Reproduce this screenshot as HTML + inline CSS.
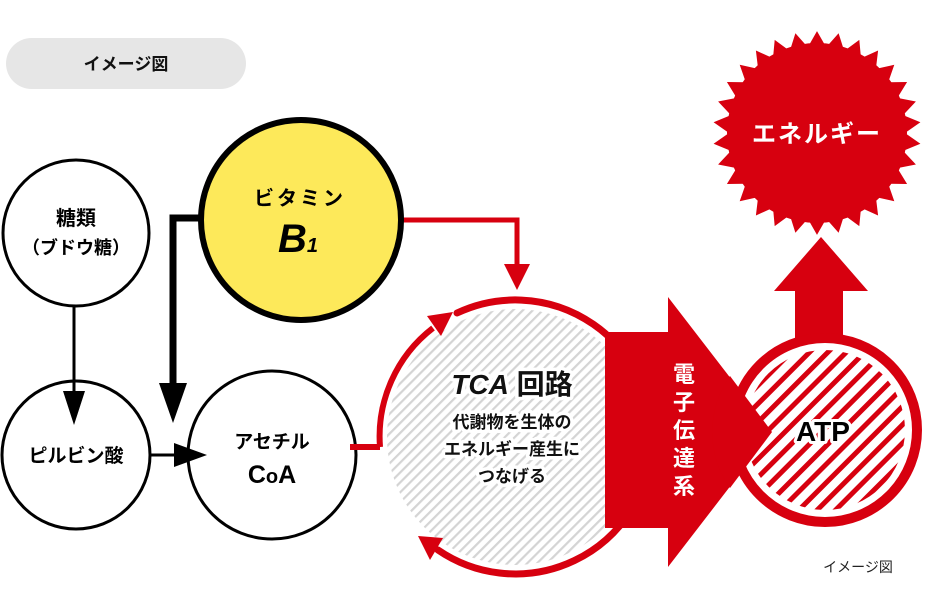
<!DOCTYPE html>
<html><head><meta charset="utf-8"><style>
html,body{margin:0;padding:0;background:#fff;}
svg{display:block;}
text{font-family:"Liberation Sans","Noto Sans CJK JP",sans-serif;font-weight:bold;}
text.n{font-weight:normal;}
</style></head><body>
<svg width="925" height="611" viewBox="0 0 925 611" xmlns="http://www.w3.org/2000/svg">
<defs>
<pattern id="gh" patternUnits="userSpaceOnUse" width="7" height="7" patternTransform="rotate(45)">
<rect width="7" height="7" fill="#fff"/>
<rect x="0" y="0" width="2.2" height="7" fill="#d4d4d4"/>
</pattern>
<pattern id="rh" patternUnits="userSpaceOnUse" width="13" height="13" patternTransform="rotate(45)">
<rect width="13" height="13" fill="#fff"/>
<rect x="0" y="0" width="5" height="13" fill="#d7000f"/>
</pattern>
</defs>

<!-- pill -->
<rect x="6" y="38" width="240" height="51" rx="25.5" fill="#e6e6e6"/>
<text x="126" y="70" font-size="17" text-anchor="middle" fill="#111">イメージ図</text>

<!-- circles left -->
<circle cx="76" cy="233" r="73" fill="#fff" stroke="#000" stroke-width="3"/>
<text x="76" y="225" font-size="20" text-anchor="middle">糖類</text>
<text x="76" y="254" font-size="18" text-anchor="middle">（ブドウ糖）</text>
<circle cx="76" cy="455" r="74" fill="#fff" stroke="#000" stroke-width="3"/>
<text x="76" y="462" font-size="19" text-anchor="middle">ピルビン酸</text>
<circle cx="272" cy="455" r="84" fill="#fff" stroke="#000" stroke-width="3"/>
<text x="272" y="448" font-size="19" text-anchor="middle">アセチル</text>
<text x="272" y="483" font-size="25" text-anchor="middle">C<tspan font-size="20">o</tspan>A</text>

<!-- black arrows -->
<line x1="74" y1="307" x2="74" y2="395" stroke="#000" stroke-width="3"/>
<polygon points="74,425 63,391 85,391" fill="#000"/>
<line x1="150" y1="455" x2="180" y2="455" stroke="#000" stroke-width="3"/>
<polygon points="207,455 174,443 174,467" fill="#000"/>
<path d="M205,218 H173 V392" fill="none" stroke="#000" stroke-width="7"/>
<polygon points="173,423 159,383 187,383" fill="#000"/>

<!-- red connectors -->
<path d="M402,220 H517 V268" fill="none" stroke="#d7000f" stroke-width="5"/>
<polygon points="517,290 504,264 530,264" fill="#d7000f"/>
<path d="M350,447 H380" fill="none" stroke="#d7000f" stroke-width="6"/>

<!-- TCA -->
<circle cx="515" cy="437" r="128" fill="url(#gh)"/>
<path d="M380,447 A137,137 0 0 1 433,328" fill="none" stroke="#d7000f" stroke-width="6"/>
<polygon points="453,312 441,336 427,316" fill="#d7000f"/>
<path d="M457,313 A137,137 0 1 1 438,550" fill="none" stroke="#d7000f" stroke-width="7" stroke-linecap="round"/>
<polygon points="418,536 443,538 430,560" fill="#d7000f"/>

<!-- big arrow -->
<polygon points="605,332 668,332 668,297 772,432 668,567 668,528 605,528" fill="#d7000f"/>
<g fill="#fff" font-size="22" text-anchor="middle">
<text x="684" y="382">電</text><text x="684" y="410">子</text><text x="684" y="438">伝</text><text x="684" y="466">達</text><text x="684" y="494">系</text>
</g>

<!-- TCA texts -->
<g text-anchor="middle" stroke="#fff" stroke-width="7" stroke-linejoin="round" paint-order="stroke" fill="#111">
<text x="512" y="394" font-size="28"><tspan font-style="italic">TCA</tspan> 回路</text>
<text x="512" y="428" font-size="17">代謝物を生体の</text>
<text x="512" y="455" font-size="17">エネルギー産生に</text>
<text x="512" y="482" font-size="17">つなげる</text>
</g>

<!-- up arrow + ATP -->
<rect x="795" y="285" width="48" height="55" fill="#d7000f"/>
<polygon points="821,237 774,291 868,291" fill="#d7000f"/>
<circle cx="825" cy="430" r="92" fill="#fff" stroke="#d7000f" stroke-width="10"/>
<circle cx="825" cy="430" r="80" fill="url(#rh)"/>
<path d="M730,376 L772,432 L730,488 A97,97 0 0 1 730,376 Z" fill="#d7000f"/>
<text x="823" y="441" font-size="28" text-anchor="middle" stroke="#fff" stroke-width="6" paint-order="stroke" stroke-linejoin="round">ATP</text>

<!-- starburst -->
<circle cx="817" cy="133" r="90" fill="#d7000f"/>
<polygon id="star" fill="#d7000f" points=""/>
<text x="817" y="142" font-size="24" text-anchor="middle" fill="#fff" letter-spacing="2">エネルギー</text>

<!-- B1 -->
<circle cx="301" cy="220" r="100" fill="#fde95a" stroke="#000" stroke-width="6"/>
<text x="300" y="205" font-size="20" text-anchor="middle" letter-spacing="3">ビタミン</text>
<text x="298" y="252" font-size="40" text-anchor="middle" font-style="italic">B<tspan font-size="20">1</tspan></text>

<text class="n" x="858" y="572" font-size="14" text-anchor="middle" fill="#222">イメージ図</text>
</svg>
<script>
var p=[],n=30,cx=817,cy=133;
for(var i=0;i<n*2;i++){var a=Math.PI*i/n-Math.PI/2;var r=i%2?88:104;p.push((cx+r*Math.cos(a)).toFixed(1)+","+(cy+r*0.98*Math.sin(a)).toFixed(1));}
document.getElementById("star").setAttribute("points",p.join(" "));
</script>
</body></html>
